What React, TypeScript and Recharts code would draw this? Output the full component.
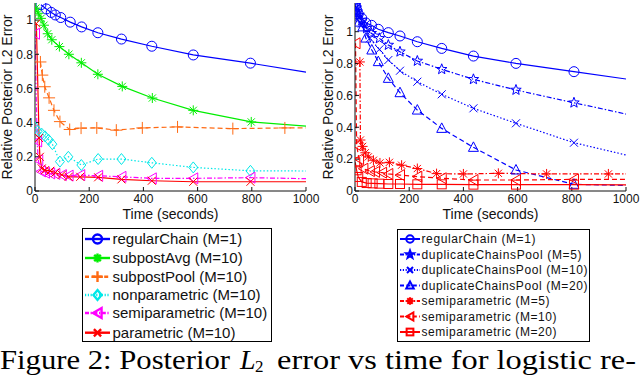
import React from 'react';
import { LineChart, Line, XAxis, YAxis, Label } from 'recharts';

type Pt = [number, number];

const timeTicks = [0, 200, 400, 600, 800, 1000];
const errorTicks = [0, 0.2, 0.4, 0.6, 0.8, 1];

// left panel
const regularChainL: Pt[] = [[22, 1.09], [42, 1.065], [60, 1.045], [75, 1.03], [95, 1.015], [130, 0.988], [172, 0.96], [232, 0.926], [319, 0.889], [431, 0.847], [584, 0.796], [795, 0.748], [1000, 0.695]];
const subpostAvgL: Pt[] = [[3, 1.07], [12, 1.04], [22, 1.01], [33, 0.97], [47, 0.92], [62, 0.885], [90, 0.845], [125, 0.8], [171, 0.75], [232, 0.683], [322, 0.612], [433, 0.544], [584, 0.472], [798, 0.404], [1000, 0.379]];
const subpostPoolL: Pt[] = [[20, 0.755], [27, 0.678], [36, 0.61], [52, 0.545], [70, 0.472], [92, 0.406], [128, 0.36], [170, 0.368], [228, 0.369], [300, 0.356], [396, 0.369], [526, 0.375], [730, 0.365], [922, 0.369], [1000, 0.369]];
const nonparametricL: Pt[] = [[0, 0.372], [10, 0.35], [25, 0.335], [37, 0.32], [50, 0.3], [64, 0.274], [92, 0.172], [123, 0.2], [171, 0.152], [233, 0.187], [319, 0.187], [431, 0.165], [584, 0.138], [795, 0.118], [1000, 0.117]];
const semiparametricL: Pt[] = [[0, 0.92], [8, 0.29], [12, 0.18], [22, 0.115], [37, 0.107], [56, 0.103], [75, 0.1], [99, 0.093], [124, 0.09], [167, 0.093], [233, 0.089], [319, 0.083], [431, 0.074], [584, 0.074], [795, 0.078], [1000, 0.072]];
const parametricL: Pt[] = [[5, 0.98], [15, 0.31], [18, 0.2], [25, 0.132], [37, 0.122], [56, 0.118], [75, 0.107], [99, 0.095], [124, 0.083], [167, 0.083], [233, 0.08], [319, 0.068], [431, 0.06], [584, 0.054], [795, 0.054], [1000, 0.054]];

// right panel
const regularChainR: Pt[] = [[2, 1.16], [6, 1.137], [12, 1.11], [25, 1.084], [40, 1.055], [61, 1.04], [86, 1.015], [123, 0.994], [166, 0.973], [230, 0.937], [320, 0.895], [437, 0.847], [594, 0.801], [808, 0.749], [1000, 0.703]];
const dupPool5R: Pt[] = [[2, 1.165], [5, 1.15], [9, 1.125], [15, 1.105], [25, 1.07], [43, 1.021], [60, 0.99], [90, 0.958], [123, 0.916], [166, 0.874], [230, 0.816], [320, 0.764], [437, 0.701], [594, 0.634], [808, 0.554], [1000, 0.483]];
const dupPool10R: Pt[] = [[3, 1.15], [8, 1.12], [15, 1.09], [25, 1.05], [55, 0.958], [90, 0.889], [123, 0.822], [166, 0.755], [230, 0.686], [320, 0.607], [437, 0.519], [594, 0.425], [808, 0.303], [1000, 0.226]];
const dupPool20R: Pt[] = [[5, 1.12], [15, 1.06], [29, 1.03], [40, 0.96], [62, 0.885], [86, 0.812], [123, 0.707], [166, 0.617], [230, 0.508], [320, 0.393], [437, 0.274], [594, 0.132], [808, 0.042], [1000, 0.035]];
const semi5R: Pt[] = [[18, 0.81], [20, 0.32], [28, 0.28], [38, 0.24], [49, 0.214], [68, 0.193], [92, 0.176], [127, 0.18], [172, 0.162], [230, 0.141], [301, 0.109], [400, 0.107], [529, 0.111], [707, 0.107], [935, 0.107], [1000, 0.107]];
const semi10R: Pt[] = [[2, 0.927], [6, 0.287], [15, 0.2], [31, 0.14], [55, 0.125], [74, 0.12], [100, 0.115], [123, 0.107], [166, 0.1], [230, 0.09], [320, 0.08], [437, 0.069], [594, 0.069], [808, 0.073], [1000, 0.073]];
const semi20R: Pt[] = [[1, 0.18], [6, 0.13], [12, 0.088], [25, 0.057], [43, 0.05], [65, 0.048], [90, 0.046], [123, 0.044], [166, 0.044], [230, 0.042], [320, 0.042], [437, 0.04], [594, 0.04], [808, 0.04], [1000, 0.038]];

const BLUE = '#0000ff';
const GREEN = '#00ee00';
const ORANGE = '#ff6a13';
const CYAN = '#00e8e8';
const MAGENTA = '#ff00ff';
const RED = '#ff0000';

const SOLID = undefined;
const DASH = '5 3';
const DOT = '1.5 2';
const DASHDOT = '5 2 1.5 2';

type Series = { name: string; data: Pt[]; color: string; dash?: string; marker: string };

const leftSeries: Series[] = [
  { name: 'regularChain (M=1)', data: regularChainL, color: BLUE, dash: SOLID, marker: 'circle' },
  { name: 'subpostAvg (M=10)', data: subpostAvgL, color: GREEN, dash: SOLID, marker: 'asterisk' },
  { name: 'subpostPool (M=10)', data: subpostPoolL, color: ORANGE, dash: DASH, marker: 'plus' },
  { name: 'nonparametric (M=10)', data: nonparametricL, color: CYAN, dash: DOT, marker: 'diamond' },
  { name: 'semiparametric (M=10)', data: semiparametricL, color: MAGENTA, dash: DASHDOT, marker: 'tleft' },
  { name: 'parametric (M=10)', data: parametricL, color: RED, dash: SOLID, marker: 'cross' },
];

const rightSeries: Series[] = [
  { name: 'regularChain (M=1)', data: regularChainR, color: BLUE, dash: SOLID, marker: 'circle' },
  { name: 'duplicateChainsPool (M=5)', data: dupPool5R, color: BLUE, dash: DASHDOT, marker: 'pentagram' },
  { name: 'duplicateChainsPool (M=10)', data: dupPool10R, color: BLUE, dash: DOT, marker: 'cross' },
  { name: 'duplicateChainsPool (M=20)', data: dupPool20R, color: BLUE, dash: DASH, marker: 'tup' },
  { name: 'semiparametric (M=5)', data: semi5R, color: RED, dash: DASHDOT, marker: 'asterisk' },
  { name: 'semiparametric (M=10)', data: semi10R, color: RED, dash: DASH, marker: 'tleft' },
  { name: 'semiparametric (M=20)', data: semi20R, color: RED, dash: SOLID, marker: 'square' },
];

const SANS = '"Liberation Sans", Arial, Helvetica, sans-serif';

function Marker({ shape, x, y, color, s = 1, sw = 1 }: { shape: string; x: number; y: number; color: string; s?: number; sw?: number }) {
  const p = { fill: 'none', stroke: color, strokeWidth: sw };
  if (shape === 'circle') return <circle cx={x} cy={y} r={5 * s} {...p} />;
  if (shape === 'asterisk') {
    const a = 5 * s, d = 3.6 * s;
    return <path d={`M${x - a},${y}H${x + a}M${x},${y - a}V${y + a}M${x - d},${y - d}L${x + d},${y + d}M${x - d},${y + d}L${x + d},${y - d}`} {...p} />;
  }
  if (shape === 'plus') {
    const a = 6 * s;
    return <path d={`M${x - a},${y}H${x + a}M${x},${y - a}V${y + a}`} {...p} />;
  }
  if (shape === 'cross') {
    const a = 4 * s;
    return <path d={`M${x - a},${y - a}L${x + a},${y + a}M${x - a},${y + a}L${x + a},${y - a}`} {...p} />;
  }
  if (shape === 'diamond') {
    const a = 5.5 * s, b = 4.5 * s;
    return <path d={`M${x},${y - a}L${x + b},${y}L${x},${y + a}L${x - b},${y}Z`} {...p} />;
  }
  if (shape === 'tleft') {
    return <path d={`M${x - 5 * s},${y}L${x + 4.5 * s},${y - 5.5 * s}L${x + 4.5 * s},${y + 5.5 * s}Z`} {...p} />;
  }
  if (shape === 'tup') {
    return <path d={`M${x},${y - 5.5 * s}L${x + 5 * s},${y + 4 * s}L${x - 5 * s},${y + 4 * s}Z`} {...p} />;
  }
  if (shape === 'square') {
    const a = 4.5 * s;
    return <rect x={x - a} y={y - a} width={2 * a} height={2 * a} {...p} />;
  }
  // pentagram
  const R = 5.5 * s, r = 2.3 * s;
  let d = '';
  for (let i = 0; i < 10; i++) {
    const ang = -Math.PI / 2 + (i * Math.PI) / 5;
    const rad = i % 2 === 0 ? R : r;
    d += `${i === 0 ? 'M' : 'L'}${x + rad * Math.cos(ang)},${y + rad * Math.sin(ang)}`;
  }
  return <path d={d + 'Z'} {...p} />;
}

const makeDot = (sr: Series) => (props: any) => {
  const { cx, cy, index } = props;
  if (index === sr.data.length - 1 || cx == null || cy == null) return <g key={`dot-${index}`} />;
  return (
    <g key={`dot-${index}`}>
      <Marker shape={sr.marker} x={cx} y={cy} color={sr.color} />
    </g>
  );
};

const yLabel = (x: number) => (props: any) => {
  const vb = props.viewBox || { y: 3, height: 188 };
  const cy = vb.y + vb.height / 2;
  return (
    <text x={x} y={cy} transform={`rotate(-90 ${x} ${cy})`} textAnchor="middle" fontFamily={SANS} fontSize={14} fill="#111">
      Relative Posterior L2 Error
    </text>
  );
};

const axisStroke = { stroke: '#111', strokeWidth: 1 };
const tickStyle = { fill: '#111', fontSize: 12, fontFamily: SANS };

function Panel({ series, yMax, left, labelX }: { series: Series[]; yMax: number; left: number; labelX: number }) {
  return (
    <div style={{ position: 'absolute', left, top: 0 }}>
      <LineChart width={320} height={225} margin={{ top: 3, right: 14, bottom: 0, left: 0 }}>
        <XAxis type="number" dataKey="t" domain={[0, 1000]} ticks={timeTicks} interval={0} height={34} allowDataOverflow
          tickSize={-4} tickMargin={7} axisLine={axisStroke} tickLine={axisStroke} tick={tickStyle}>
          <Label value="Time (seconds)" position="insideBottom" offset={6} fill="#111" fontSize={14} fontFamily={SANS} />
        </XAxis>
        <XAxis xAxisId="top" orientation="top" type="number" domain={[0, 1000]} ticks={timeTicks} interval={0} height={0} allowDataOverflow
          tickSize={-4} axisLine={axisStroke} tickLine={axisStroke} tick={false} />
        <YAxis type="number" domain={[0, yMax]} ticks={errorTicks} interval={0} width={35} allowDataOverflow
          tickSize={-4} tickMargin={6} axisLine={axisStroke} tickLine={axisStroke} tick={tickStyle}
          tickFormatter={(v: number) => String(v)}>
          <Label content={yLabel(labelX)} />
        </YAxis>
        <YAxis yAxisId="right" orientation="right" type="number" domain={[0, yMax]} ticks={errorTicks} interval={0} width={0} allowDataOverflow
          tickSize={-4} axisLine={axisStroke} tickLine={axisStroke} tick={false} />
        {series.map((sr) => (
          <Line
            key={sr.name}
            name={sr.name}
            data={sr.data.map(([t, v]) => ({ t, v }))}
            dataKey="v"
            type="linear"
            stroke={sr.color}
            strokeWidth={1.2}
            strokeDasharray={sr.dash}
            dot={makeDot(sr)}
            activeDot={false}
            isAnimationActive={false}
          />
        ))}
      </LineChart>
    </div>
  );
}

function LegendBox({ series, box, rowY, lineX, textX, fontSize, textWidths, lw, ms }: {
  series: Series[]; box: { left: number; top: number; width: number; height: number };
  rowY: number[]; lineX: [number, number]; textX: number; fontSize: number; textWidths?: number[]; lw: number; ms: number;
}) {
  return (
    <svg width={box.width} height={box.height} style={{ position: 'absolute', left: box.left, top: box.top, overflow: 'visible' }}>
      <rect x={0.5} y={0.5} width={box.width - 1} height={box.height - 1} fill="#fff" stroke="#000" strokeWidth={1} />
      {series.map((sr, i) => (
        <g key={sr.name}>
          <line x1={lineX[0]} x2={lineX[1]} y1={rowY[i]} y2={rowY[i]} stroke={sr.color} strokeWidth={lw}
            strokeDasharray={sr.dash ? sr.dash.split(' ').map((n) => String(Number(n) * 0.8)).join(' ') : undefined} />
          <Marker shape={sr.marker} x={(lineX[0] + lineX[1]) / 2} y={rowY[i]} color={sr.color} s={ms} sw={lw} />
          <text x={textX} y={rowY[i]} dy="0.36em" fontSize={fontSize} fontFamily={SANS} fill="#111"
            textLength={textWidths ? textWidths[i] : undefined} lengthAdjust={textWidths ? 'spacing' : undefined}>
            {sr.name}
          </text>
        </g>
      ))}
    </svg>
  );
}

export default function App() {
  const serif = '"Liberation Serif", "Times New Roman", serif';
  return (
    <div style={{ position: 'absolute', left: 0, top: 0, width: 640, height: 376, background: '#fff', overflow: 'hidden' }}>
      <Panel series={leftSeries} yMax={1.1} left={0} labelX={12} />
      <Panel series={rightSeries} yMax={1.18} left={320} labelX={13} />
      <LegendBox series={leftSeries} box={{ left: 82, top: 228, width: 190, height: 114 }}
        rowY={[11, 30, 48.7, 67, 85, 104.7]} lineX={[3, 28]} textX={30.5} fontSize={15} lw={2.4} ms={0.9} />
      <LegendBox series={rightSeries} box={{ left: 397, top: 229, width: 193, height: 113 }}
        rowY={[10, 25.5, 41, 56.5, 72, 87.5, 103]} lineX={[3, 23]} textX={24.5} fontSize={12}
        textWidths={[114, 160, 166, 166, 128, 135, 135]} lw={2} ms={0.75} />
      <svg width={640} height={40} style={{ position: 'absolute', left: 0, top: 336 }}>
        <text x={0} y={33} fontFamily={serif} fontSize={28} textLength={230} lengthAdjust="spacingAndGlyphs" fill="#000">Figure 2:  Posterior</text>
        <text x={240} y={33} fontFamily={serif} fontSize={28} fontStyle="italic" fill="#000">L</text>
        <text x={255} y={35.5} fontFamily={serif} fontSize={17} fill="#000">2</text>
        <text x={277} y={33} fontFamily={serif} fontSize={28} textLength={359} lengthAdjust="spacingAndGlyphs" fill="#000">error vs time for logistic re-</text>
      </svg>
    </div>
  );
}
